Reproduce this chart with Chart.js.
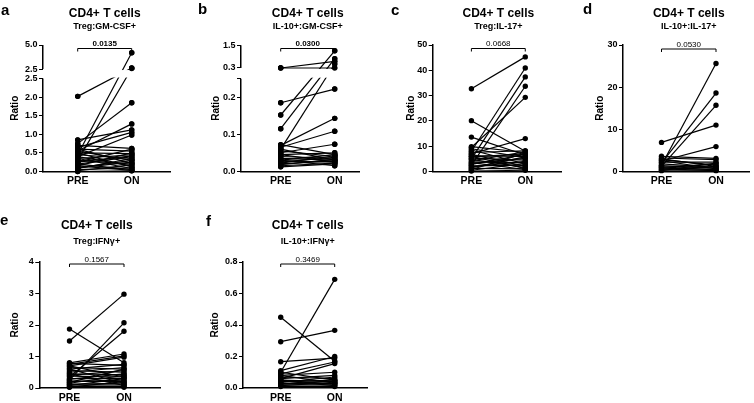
<!DOCTYPE html>
<html><head><meta charset="utf-8">
<script src="https://cdn.jsdelivr.net/npm/chart.js@4.4.0/dist/chart.umd.min.js"></script>
<style>
html,body{margin:0;padding:0;background:#fff;}
body{width:754px;height:403px;position:relative;overflow:hidden;}
canvas{position:absolute;}
</style></head><body>
<canvas id="ca"></canvas><canvas id="cb"></canvas><canvas id="cc"></canvas>
<canvas id="cd"></canvas><canvas id="ce"></canvas><canvas id="cf"></canvas>
<script>
// ---------------- DATA ----------------
const categories = ['PRE', 'ON'];
const mainTitle = 'CD4+ T cells';
const yTitle = 'Ratio';

// a: Treg:GM-CSF+
const aPre = [2.02,0.45,0.30,0.75,0.55,0.85,0.65,0.40,0.70,0.60,0.50,0.35,0.25,0.20,0.45,0.15,0.55,0.10,0.30,0.40,0.05,0.20,0.50,0.35,0.10,0.60,0.15,0.25,0.02,0.08,0.00];
const aOn  = [2.60,4.20,2.55,1.85,1.28,1.12,1.05,0.98,0.62,0.55,0.48,0.45,0.60,0.40,0.35,0.50,0.30,0.25,0.20,0.15,0.10,0.05,0.12,0.08,0.30,0.22,0.03,0.42,0.18,0.35,0.02];
const aTickValues = [0,0.5,1,1.5,2,2.5,2.5000001,5];
const aTickLabels = ['0.0','0.5','1.0','1.5','2.0','2.5','2.5','5.0'];

// b: IL-10+:GM-CSF+
const bPre = [0.30,0.30,0.185,0.152,0.115,0.060,0.070,0.065,0.050,0.072,0.055,0.045,0.040,0.035,0.030,0.028,0.025,0.020,0.018,0.015,0.012,0.030,0.045,0.060,0.022];
const bOn  = [0.30,0.65,0.222,1.21,0.79,0.51,0.143,0.108,0.073,0.045,0.040,0.050,0.035,0.030,0.045,0.025,0.038,0.028,0.032,0.022,0.020,0.015,0.025,0.030,0.042];
const bTickValues = [0,0.1,0.2,0.25,0.3,1.5];
const bTickLabels = ['0.0','0.1','0.2','','0.3','1.5'];

// c: Treg:IL-17+
const cPre = [32.7,20.1,13.6,8.0,5.0,2.5,9.5,7.0,9.8,9.0,8.5,7.5,6.8,6.2,5.8,5.3,4.8,4.2,3.8,3.2,2.8,2.2,1.8,1.2,0.8,0.5,0.2,3.5,6.0,1.5];
const cOn  = [45.3,8.0,6.5,40.9,37.4,33.7,29.3,13.0,7.5,5.5,3.0,8.2,2.0,6.0,7.0,4.5,1.5,7.8,3.5,5.2,6.8,2.5,4.0,1.0,7.2,3.2,0.5,0.8,1.2,5.8];
const cTickValues = [0,10,20,30,40,50];
const cTickLabels = ['0','10','20','30','40','50'];

// d: IL-10+:IL-17+
const dPre = [6.9,1.5,2.0,1.2,2.5,3.6,3.2,2.8,2.2,1.8,1.0,0.8,0.5,0.3,1.4,2.6,0.2,0.6,3.0,1.1];
const dOn  = [11.0,25.6,18.6,15.7,5.9,3.1,2.8,1.5,2.2,1.0,1.8,0.5,1.2,0.3,0.8,0.6,2.0,0.2,1.2,0.4];
const dTickValues = [0,10,20,30];
const dTickLabels = ['0','10','20','30'];

// e: Treg:IFNγ+
const ePre = [1.49,1.87,0.25,0.35,0.80,0.75,0.70,0.78,0.65,0.60,0.55,0.50,0.45,0.40,0.38,0.30,0.28,0.22,0.20,0.15,0.12,0.10,0.08,0.05,0.03,0.60,0.45,0.18,0.70,0.02];
const eOn  = [2.98,0.80,2.07,1.80,1.08,1.02,0.98,0.72,0.60,0.75,0.50,0.65,0.42,0.55,0.35,0.30,0.45,0.20,0.25,0.40,0.15,0.10,0.30,0.05,0.20,0.15,0.08,0.60,0.35,0.02];
const eTickValues = [0,1,2,3,4];
const eTickLabels = ['0','1','2','3','4'];

// f: IL-10+:IFNγ+
const fPre = [0.449,0.294,0.100,0.167,0.110,0.090,0.080,0.070,0.060,0.050,0.040,0.030,0.020,0.010,0.060,0.050,0.035,0.025,0.015,0.080,0.045,0.100];
const fOn  = [0.170,0.366,0.690,0.190,0.200,0.165,0.100,0.060,0.080,0.040,0.050,0.030,0.020,0.010,0.155,0.025,0.070,0.045,0.035,0.030,0.015,0.050];
const fTickValues = [0,0.2,0.4,0.6,0.8];
const fTickLabels = ['0.0','0.2','0.4','0.6','0.8'];

const subtitles = {a:'Treg:GM-CSF+', b:'IL-10+:GM-CSF+', c:'Treg:IL-17+', d:'IL-10+:IL-17+', e:'Treg:IFN\u03b3+', f:'IL-10+:IFN\u03b3+'};
const pValues   = {a:'0.0135', b:'0.0300', c:'0.0668', d:'0.0530', e:'0.1567', f:'0.3469'};

// ---------------- LAYOUT (page pixel geometry) ----------------
const FONT = '"Liberation Sans", Arial, Helvetica, sans-serif';
const layouts = {
  a:{box:[0,0,188,200],   axisX:43,    right:170, top:45,   bottom:171.5, pre:77.7,  on:131.7, ratioX:15,    letter:[1,11],   titleY:13.8, subY:26.7, brY:48.5, pY:44,  pBold:true},
  b:{box:[188,0,187,200], axisX:241,   right:359, top:45.3, bottom:171.3, pre:280.7, on:334.7, ratioX:216.5, letter:[198,10], titleY:13.8, subY:26.7, brY:48.5, pY:44,  pBold:true},
  c:{box:[375,0,190,200], axisX:432.7, right:562, top:45,   bottom:171.5, pre:471.7, on:526,   ratioX:411,   letter:[391,11], titleY:13.8, subY:26.7, brY:48.5, pY:44,  pBold:false},
  d:{box:[565,0,189,200], axisX:623,   right:749, top:45,   bottom:171.5, pre:661.5, on:716,   ratioX:600,   letter:[583,10], titleY:13.8, subY:26.7, brY:49,   pY:45,  pBold:false},
  e:{box:[0,200,188,203], axisX:39.3,  right:160, top:262,  bottom:388,   pre:69.5,  on:124,   ratioX:15,    letter:[0,221],  titleY:226,  subY:241.5,brY:264,  pY:259.5,pBold:false},
  f:{box:[188,200,187,203],axisX:243,  right:367, top:262,  bottom:388,   pre:280.7, on:334.7, ratioX:215,   letter:[206,222],titleY:226,  subY:241.5,brY:264,  pY:259.5,pBold:false}
};
const breaks = {
  a:{lowMax:2.5, highMin:2.5, lowFrac:0.735, highFrac:0.810},
  b:{lowMax:0.25, highMin:0.3, lowFrac:0.735, highFrac:0.820}
};

// ---------------- Broken (segmented) linear scale ----------------
class BrokenLinearScale extends Chart.LinearScale {
  getPixelForValue(value) {
    const b = this.options.brk;
    if (!b || !b.lowFrac) return super.getPixelForValue(value);
    let f;
    if (value <= b.lowMax) f = (value - this.min) / (b.lowMax - this.min) * b.lowFrac;
    else if (value < b.highMin) f = b.lowFrac + (value - b.lowMax) / (b.highMin - b.lowMax) * (b.highFrac - b.lowFrac);
    else f = b.highFrac + (value - b.highMin) / (this.max - b.highMin) * (1 - b.highFrac);
    return this.getPixelForDecimal(f);
  }
}
BrokenLinearScale.id = 'brokenLinear';
BrokenLinearScale.defaults = Chart.LinearScale.defaults;
Chart.register(BrokenLinearScale);

const deco = {
  id: 'deco',
  afterDatasetsDraw(chart, args, o) {
    if (!o.brk) return;
    const ctx = chart.ctx, ca = chart.chartArea, ys = chart.scales.y;
    const yl = ys.getPixelForDecimal(o.brk.lowFrac), yu = ys.getPixelForDecimal(o.brk.highFrac);
    ctx.save();
    ctx.fillStyle = '#fff';
    ctx.fillRect(ca.left + 1, yu + 1, ca.right - ca.left + 10, yl - yu - 2);
    const big = {left:-1e4, top:-1e4, right:1e4, bottom:1e4};
    chart.getSortedVisibleDatasetMetas().forEach(m => m.data.forEach(p => p.draw(ctx, big)));
    ctx.strokeStyle = '#000'; ctx.lineWidth = 1.5;
    const x = Math.round(ca.left) - 0.25;
    ctx.beginPath();
    ctx.moveTo(x, ca.bottom + 0.75); ctx.lineTo(x, yl);
    ctx.moveTo(x, yu); ctx.lineTo(x, ca.top);
    ctx.stroke();
    ctx.restore();
  },
  afterDraw(chart, args, o) {
    const ctx = chart.ctx, xs = chart.scales.x;
    const ox = o.L.box[0], oy = o.L.box[1];
    const x0 = xs.getPixelForValue(0), x1 = xs.getPixelForValue(1), xm = (x0 + x1) / 2;
    ctx.save();
    ctx.fillStyle = '#000'; ctx.strokeStyle = '#000';
    ctx.textAlign = 'center'; ctx.textBaseline = 'middle';
    ctx.font = 'bold 12px ' + FONT;
    ctx.fillText(mainTitle, xm, o.L.titleY - oy);
    ctx.font = 'bold 9px ' + FONT;
    ctx.fillText(o.sub, xm, o.L.subY - oy);
    ctx.textAlign = 'left';
    ctx.font = 'bold 15px ' + FONT;
    ctx.fillText(o.letter, o.L.letter[0] - ox, o.L.letter[1] - oy);
    const by = o.L.brY - oy;
    ctx.lineWidth = 1;
    ctx.beginPath();
    ctx.moveTo(x0, by + 3); ctx.lineTo(x0, by); ctx.lineTo(x1, by); ctx.lineTo(x1, by + 3);
    ctx.stroke();
    ctx.textAlign = 'center';
    ctx.font = (o.L.pBold ? 'bold ' : '') + '8px ' + FONT;
    ctx.fillText(o.p, xm, o.L.pY - oy);
    ctx.restore();
  }
};

function makePanel(key, pre, on, tickValues, tickLabels, yMax) {
  const L = layouts[key];
  const brk = breaks[key] || null;
  const canvas = document.getElementById('c' + key);
  const [bx, by, bw, bh] = L.box;
  canvas.style.left = bx + 'px'; canvas.style.top = by + 'px';
  canvas.width = bw; canvas.height = bh;
  canvas.style.width = bw + 'px'; canvas.style.height = bh + 'px';

  const titleLH = 10 * 1.2;
  const padLeft = L.ratioX - titleLH / 2 - bx;
  const yW = L.axisX - bx - padLeft;
  const padTop = L.top - by;
  const xH = Math.min(20, bh - (L.bottom - by) - 1);
  const padBottom = bh - (L.bottom - by) - xH;
  const padRight = bx + bw - L.right;
  const unit = L.on - L.pre;
  const xMin = -(L.pre - L.axisX) / unit;
  const xMax = 1 + (L.right - L.on) / unit;

  const datasets = pre.map((p, i) => ({
    data: [{x: 0, y: p}, {x: 1, y: on[i]}],
    showLine: true,
    borderColor: '#000',
    borderWidth: 1.2,
    pointRadius: 2.7,
    pointBackgroundColor: '#000',
    pointBorderColor: '#000',
    pointBorderWidth: 0,
    clip: false
  }));

  new Chart(canvas, {
    type: 'scatter',
    data: { datasets },
    options: {
      responsive: false,
      animation: false,
      events: [],
      devicePixelRatio: 1,
      layout: { padding: { left: padLeft, top: padTop, right: padRight, bottom: padBottom } },
      plugins: {
        legend: { display: false },
        tooltip: { enabled: false },
        deco: { L, brk, sub: subtitles[key], p: pValues[key], letter: key }
      },
      scales: {
        x: {
          type: 'linear', min: xMin, max: xMax,
          afterBuildTicks: s => { s.ticks = [{value: 0}, {value: 1}]; },
          afterFit: s => { s.height = xH; },
          grid: { display: false, drawTicks: false, tickLength: 0 },
          border: { display: true, color: '#000', width: 1.5 },
          ticks: {
            autoSkip: false, maxRotation: 0, padding: 3.5, color: '#000',
            font: { family: FONT, size: 10.5, weight: 'bold' },
            callback: v => categories[Math.round(v)]
          }
        },
        y: {
          type: brk ? 'brokenLinear' : 'linear',
          brk: brk || {},
          min: 0, max: yMax,
          afterBuildTicks: s => { s.ticks = tickValues.map(v => ({value: v})); },
          afterFit: s => { s.width = yW; },
          grid: { display: true, drawOnChartArea: false, drawTicks: true, tickLength: 4, color: '#000', lineWidth: 1 },
          border: { display: !brk, color: '#000', width: 1.5 },
          title: { display: true, text: yTitle, color: '#000', padding: {top: 0, bottom: 0},
                   font: { family: FONT, size: 10, weight: 'bold' } },
          ticks: {
            autoSkip: false, padding: 1.5, color: '#000',
            font: { family: FONT, size: 9, weight: 'bold' },
            callback: (v, i) => tickLabels[i]
          }
        }
      }
    },
    plugins: [deco]
  });
}

makePanel('a', aPre, aOn, aTickValues, aTickLabels, 5);
makePanel('b', bPre, bOn, bTickValues, bTickLabels, 1.5);
makePanel('c', cPre, cOn, cTickValues, cTickLabels, 50);
makePanel('d', dPre, dOn, dTickValues, dTickLabels, 30);
makePanel('e', ePre, eOn, eTickValues, eTickLabels, 4);
makePanel('f', fPre, fOn, fTickValues, fTickLabels, 0.8);
</script>
</body></html>
